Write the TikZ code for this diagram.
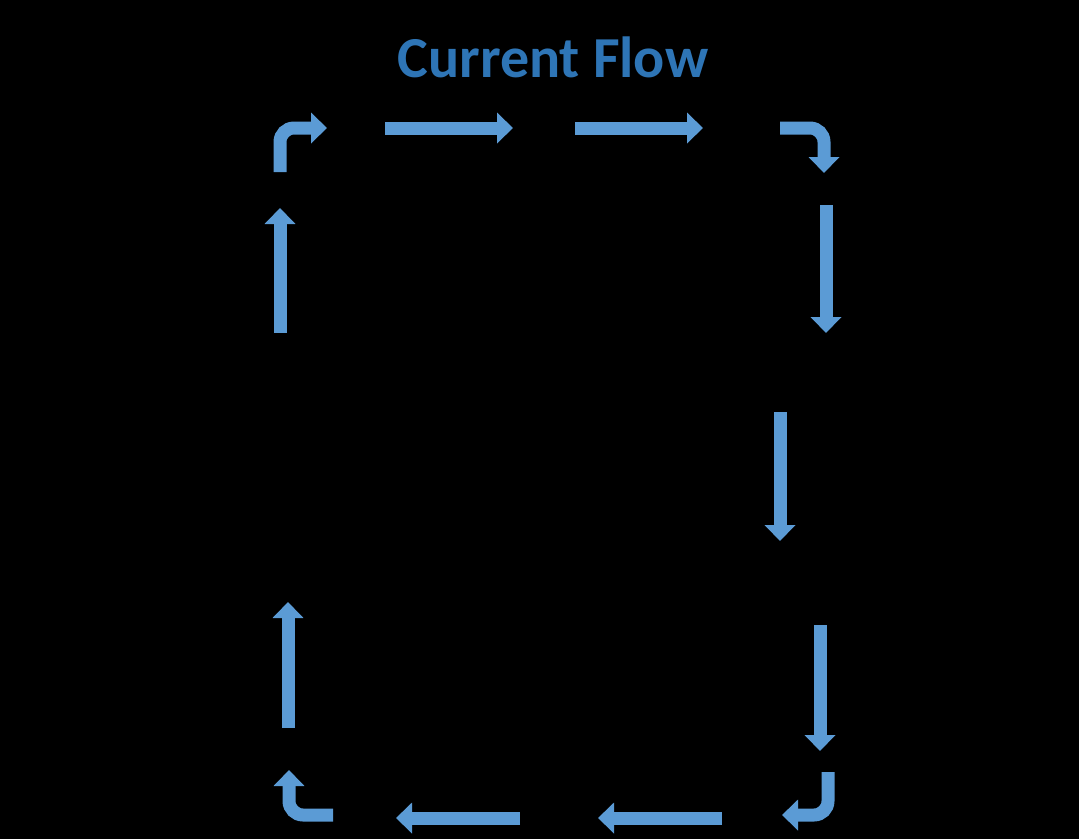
\documentclass[tikz,border=0pt]{standalone}
\usepackage{fontspec}
\setmainfont{Carlito}
\usetikzlibrary{arrows.meta}
\definecolor{flowblue}{HTML}{5B9BD5}
\definecolor{titleblue}{HTML}{2E75B6}
\begin{document}
\begin{tikzpicture}[x=1pt, y=-1pt,
  flow/.style={draw=flowblue, line width=13pt, -{Triangle[width=30pt,length=16pt]}, rounded corners=14pt}]

\fill[black] (0, 0) rectangle (1079, 839);
\node[text=titleblue, font=\bfseries\fontsize{58}{60}\selectfont] (title) at (553, 57) {Current Flow};

% top
\draw[flow] (280, 172) -- (280, 128) -- (327, 128);
\draw[flow] (385, 128) -- (513, 128);
\draw[flow] (575, 128) -- (703, 128);
\draw[flow] (780, 128) -- (824, 128) -- (824, 173);

% right
\draw[flow] (826, 205) -- (826, 333);
\draw[flow] (780, 412) -- (780, 541);
\draw[flow] (820, 625) -- (820, 751);

% bottom
\draw[flow] (828, 772) -- (828, 815) -- (782, 815);
\draw[flow] (722, 818) -- (598, 818);
\draw[flow] (520, 818) -- (396, 818);
\draw[flow] (333, 815) -- (289, 815) -- (289, 770);

% left
\draw[flow] (288, 728) -- (288, 602);
\draw[flow] (280, 333) -- (280, 208);

\end{tikzpicture}
\end{document}
